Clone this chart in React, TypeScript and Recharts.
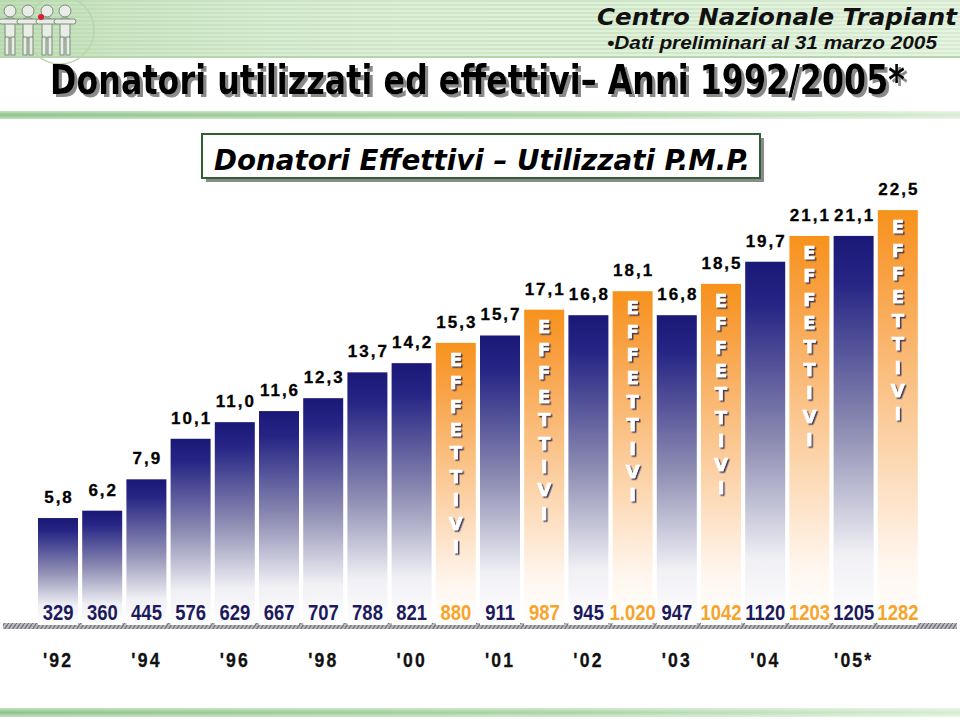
import React from 'react';
import { BarChart, Bar, XAxis, YAxis } from 'recharts';

// Bar categories (labelled by the absolute donor counts)
const categories = ['329', '360', '445', '576', '629', '667', '707', '788', '821', '880', '911', '987', '945', '1.020', '947', '1042', '1120', '1203', '1205', '1282'];
// Donors per million population
const rates = [5.8, 6.2, 7.9, 10.1, 11.0, 11.6, 12.3, 13.7, 14.2, 15.3, 15.7, 17.1, 16.8, 18.1, 16.8, 18.5, 19.7, 21.1, 21.1, 22.5];
// U = utilizzati, E = effettivi
const kinds = ['U', 'U', 'U', 'U', 'U', 'U', 'U', 'U', 'U', 'E', 'U', 'E', 'U', 'E', 'U', 'E', 'U', 'E', 'U', 'E'];
const yearLabels = ["'92", '', "'94", '', "'96", '', "'98", '', "'00", '', "'01", '', "'02", '', "'03", '', "'04", '', "'05*", ''];
const effLetters = ['E', 'F', 'F', 'E', 'T', 'T', 'I', 'V', 'I'];

const data = categories.map((c, i) => ({ count: c, rate: rates[i], kind: kinds[i], year: yearLabels[i] }));

const HEAVY = '"DejaVu Sans", Verdana, sans-serif';
const SANS = '"Liberation Sans", Arial, sans-serif';

function BarShape(props: any) {
  const { x, y, width, height, index } = props;
  const eff = kinds[index] === 'E';
  const label = rates[index].toFixed(1).replace('.', ',');
  const cx = x + width / 2;
  return (
    <g>
      <rect x={x} y={y} width={width} height={height} fill={eff ? 'url(#gOrange)' : 'url(#gNavy)'} />
      <text x={cx + 1} y={y - 15} textAnchor="middle" fontFamily={SANS} fontWeight="bold" fontSize={17} letterSpacing={2} fill="#000" stroke="#000" strokeWidth={0.3}>
        {label}
      </text>
      {eff && (
        <g filter="url(#letterShadow)">
          {effLetters.map((ch, k) => (
            <text key={k} x={cx} y={y + 23 + k * 23.4} textAnchor="middle" fontFamily={HEAVY} fontWeight="bold" fontSize={18} fill="#ffffff" stroke="#ffffff" strokeWidth={0.6}>
              {ch}
            </text>
          ))}
        </g>
      )}
    </g>
  );
}

function renderTick(props: any) {
  const { x, y, payload, index } = props;
  const eff = kinds[index] === 'E';
  const yr = yearLabels[index];
  return (
    <g>
      <g transform={`translate(${x},${y - 5}) scale(0.84,1)`}>
        <text x={0} y={0} textAnchor="middle" fontFamily={SANS} fontWeight="bold" fontSize={22} fill={eff ? '#f5a42c' : '#1d1a5c'}>
          {payload.value}
        </text>
      </g>
      {yr ? (
        <g transform={`translate(${x},${y + 42}) scale(0.88,1)`}>
          <text x={0} y={0} textAnchor="middle" fontFamily={SANS} fontWeight="bold" fontSize={20} letterSpacing={2.5} fill="#111" stroke="#111" strokeWidth={0.3}>
            {yr}
          </text>
        </g>
      ) : null}
    </g>
  );
}

function Decorations() {
  const figs = [2, 20, 39, 57];
  return (
    <svg width={960} height={723} style={{ position: 'absolute', left: 0, top: 0 }}>
      <defs>
        <pattern id="stripes" width="4" height="4" patternUnits="userSpaceOnUse">
          <rect width="4" height="4" fill="#dcefd6" />
          <rect width="4" height="2" fill="#c8e3bf" />
        </pattern>
        <linearGradient id="hdrFade" x1="0" y1="0" x2="1" y2="0">
          <stop offset="0" stopColor="#a9d19e" stopOpacity="0.55" />
          <stop offset="0.6" stopColor="#ffffff" stopOpacity="0.1" />
          <stop offset="1" stopColor="#ffffff" stopOpacity="0.3" />
        </linearGradient>
        <linearGradient id="greenBand" x1="0" y1="0" x2="1" y2="0">
          <stop offset="0" stopColor="#8cc487" />
          <stop offset="0.6" stopColor="#a9d5a3" />
          <stop offset="1" stopColor="#d6ecd2" />
        </linearGradient>
        <linearGradient id="greenBandV" x1="0" y1="0" x2="0" y2="1">
          <stop offset="0" stopColor="#ffffff" stopOpacity="0.5" />
          <stop offset="0.5" stopColor="#ffffff" stopOpacity="0" />
          <stop offset="1" stopColor="#ffffff" stopOpacity="0.5" />
        </linearGradient>
        <pattern id="hatch" width="4" height="6" patternUnits="userSpaceOnUse">
          <rect width="4" height="6" fill="#b8b8c0" />
          <path d="M0 6 L4 0" stroke="#6e6e78" strokeWidth="1.2" />
        </pattern>
        <filter id="titleShadow" x="-5%" y="-20%" width="110%" height="150%">
          <feDropShadow dx="3" dy="3" stdDeviation="0.6" floodColor="#8a8a8a" floodOpacity="1" />
        </filter>
      </defs>
      {/* header band */}
      <rect x={0} y={0} width={960} height={58} fill="url(#stripes)" />
      <rect x={0} y={0} width={960} height={58} fill="url(#hdrFade)" />
      <rect x={0} y={56} width={960} height={2} fill="#b5d6ac" />
      {/* logo: stylised figures */}
      <circle cx={60} cy={30} r={34} fill="none" stroke="#b9d4b1" strokeWidth={1.5} />
      {figs.map((fx, i) => (
        <g key={i} stroke="#7f8a7c" strokeWidth={1} fill="#e9ede7">
          <circle cx={fx + 8} cy={11} r={6} />
          <rect x={fx + 3} y={18} width={10} height={20} rx={3} />
          <rect x={fx - 3} y={19} width={22} height={5} rx={2.5} />
          <rect x={fx + 3} y={37} width={4} height={18} />
          <rect x={fx + 9} y={37} width={4} height={18} />
        </g>
      ))}
      <circle cx={41} cy={17} r={3} fill="#d8202a" />
      <text x={597} y={25} fontFamily={HEAVY} fontWeight="bold" fontStyle="italic" fontSize={23} textLength={360} lengthAdjust="spacingAndGlyphs" fill="#111">
        Centro Nazionale Trapiant
      </text>
      <text x={607} y={49} fontFamily={SANS} fontWeight="bold" fontStyle="italic" fontSize={18} textLength={330} lengthAdjust="spacingAndGlyphs" fill="#111">
        •Dati preliminari al 31 marzo 2005
      </text>
      {/* title */}
      <g filter="url(#titleShadow)">
        <text x={50} y={94} fontFamily={HEAVY} fontWeight="bold" fontSize={40} textLength={855} lengthAdjust="spacingAndGlyphs" fill="#000">
          Donatori utilizzati ed effettivi– Anni 1992/2005*
        </text>
      </g>
      {/* green line under title */}
      <rect x={0} y={111} width={960} height={8} fill="url(#greenBand)" />
      <rect x={0} y={111} width={960} height={8} fill="url(#greenBandV)" />
      {/* subtitle box */}
      <rect x={206} y={138} width={558} height={44} fill="#8a8a8a" />
      <rect x={202} y={134} width={558} height={44} fill="#ffffff" stroke="#2f5f35" strokeWidth={2} />
      <text x={214} y={170} fontFamily={HEAVY} fontWeight="bold" fontStyle="italic" fontSize={28} textLength={536} lengthAdjust="spacingAndGlyphs" fill="#000">
        Donatori Effettivi – Utilizzati P.M.P.
      </text>
      {/* hatched separator */}
      <rect x={3} y={623} width={954} height={6} fill="url(#hatch)" />
      {/* bottom green band */}
      <rect x={0} y={708} width={960} height={9} fill="url(#greenBand)" />
      <rect x={0} y={708} width={960} height={9} fill="url(#greenBandV)" />
    </svg>
  );
}

export default function App() {
  return (
    <div style={{ position: 'absolute', left: 0, top: 0, width: 960, height: 723, background: '#fff', overflow: 'hidden' }}>
      <Decorations />
      <div style={{ position: 'absolute', left: 0, top: 0 }}>
        <BarChart width={960} height={723} data={data} margin={{ top: 164, right: 40, bottom: 0, left: 36 }}>
          <defs>
            <linearGradient id="gNavy" x1="0" y1="0" x2="0" y2="1">
              <stop offset="0" stopColor="#1a1877" />
              <stop offset="0.12" stopColor="#262585" />
              <stop offset="0.5" stopColor="#8e8db3" />
              <stop offset="0.82" stopColor="#f0f0f5" />
              <stop offset="1" stopColor="#ffffff" />
            </linearGradient>
            <linearGradient id="gOrange" x1="0" y1="0" x2="0" y2="1">
              <stop offset="0" stopColor="#f7921c" />
              <stop offset="0.15" stopColor="#f8a041" />
              <stop offset="0.5" stopColor="#fbcb99" />
              <stop offset="0.85" stopColor="#fff6ee" />
              <stop offset="1" stopColor="#ffffff" />
            </linearGradient>
            <filter id="letterShadow" x="-50%" y="-5%" width="200%" height="110%">
              <feDropShadow dx="1.5" dy="1.5" stdDeviation="0.4" floodColor="#2a2a55" floodOpacity="0.9" />
            </filter>
          </defs>
          <YAxis hide domain={[0, 25]} />
          <XAxis
            dataKey="count"
            height={98}
            interval={0}
            axisLine={false}
            tickLine={false}
            tickSize={0}
            tickMargin={0}
            tick={renderTick}
          />
          <Bar dataKey="rate" barSize={40} isAnimationActive={false} shape={BarShape} />
        </BarChart>
      </div>
    </div>
  );
}
